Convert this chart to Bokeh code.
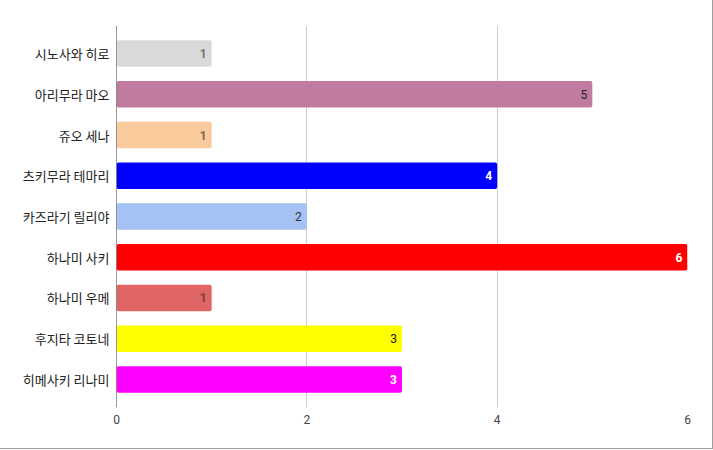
from bokeh.plotting import figure
from bokeh.models import Range1d, ColumnDataSource, Span, FixedTicker, LabelSet
from bokeh.core.properties import value
from bokeh.embed import file_html
from bokeh.resources import INLINE

names = ["시노사와 히로", "아리무라 마오", "쥬오 세나", "츠키무라 테마리", "카즈라기 릴리야",
         "하나미 사키", "하나미 우메", "후지타 코토네", "히메사키 리나미"]
counts = [1, 5, 1, 4, 2, 6, 1, 3, 3]
colors = ["#d9d9d9", "#c27ba0", "#f9cb9c", "#0000ff", "#a4c2f4",
          "#ff0000", "#e06666", "#ffff00", "#ff00ff"]
label_colors = ["#737373", "#222222", "#845d55", "#ffffff", "#333333",
                "#ffffff", "#7a3c3c", "#222222", "#ffffff"]
label_styles = ["bold", "normal", "bold", "bold", "normal", "bold", "bold", "normal", "bold"]
x_ticks = [0, 2, 4, 6]

idx = list(range(len(names)))
src = ColumnDataSource(dict(y=idx, x=counts, color=colors, lc=label_colors,
                            ls=label_styles, txt=[str(c) for c in counts]))

p = figure(output_backend="svg", toolbar_location=None,
           frame_width=571, frame_height=382,
           x_range=Range1d(0, 6), y_range=Range1d(len(names) - 1 + 0.69, -0.69),
           min_border_left=118, min_border_right=25, min_border_top=27, min_border_bottom=41)
p.styles = {"margin-left": "-3.5px", "margin-top": "-3.5px", "border": "1px solid #9e9e9e"}
p.outline_line_color = None
p.background_fill_color = "white"
p.border_fill_color = "white"

p.hbar(y="y", right="x", left=0, height=0.65, color="color", line_color=None,
       source=src, border_radius=2)

labels = LabelSet(x="x", y="y", text="txt", source=src, x_offset=-5,
                  text_align="right", text_baseline="middle", text_color="lc",
                  text_font_style="ls", text_font_size="12px", text_font=value("Roboto"))
p.add_layout(labels)

p.add_layout(Span(location=0, dimension="height", line_color="#333333", line_width=1))

p.xaxis.ticker = FixedTicker(ticks=x_ticks)
p.xaxis.axis_line_color = None
p.xaxis.major_tick_line_color = None
p.xaxis.minor_tick_line_color = None
p.xaxis.major_label_text_font = "Roboto"
p.xaxis.major_label_text_font_size = "12px"
p.xaxis.major_label_text_color = "#444444"
p.xaxis.major_label_standoff = 1

p.yaxis.ticker = FixedTicker(ticks=idx)
p.yaxis.major_label_overrides = {i: n for i, n in enumerate(names)}
p.yaxis.axis_line_color = None
p.yaxis.major_tick_line_color = None
p.yaxis.minor_tick_line_color = None
p.yaxis.major_label_text_font = "Noto Sans CJK KR"
p.yaxis.major_label_text_font_size = "13px"
p.yaxis.major_label_text_color = "#222222"
p.yaxis.major_label_standoff = 1

p.xgrid.ticker = FixedTicker(ticks=x_ticks)
p.xgrid.grid_line_color = "#cccccc"
p.ygrid.grid_line_color = None

open("out.html", "w").write(file_html(p, INLINE))
